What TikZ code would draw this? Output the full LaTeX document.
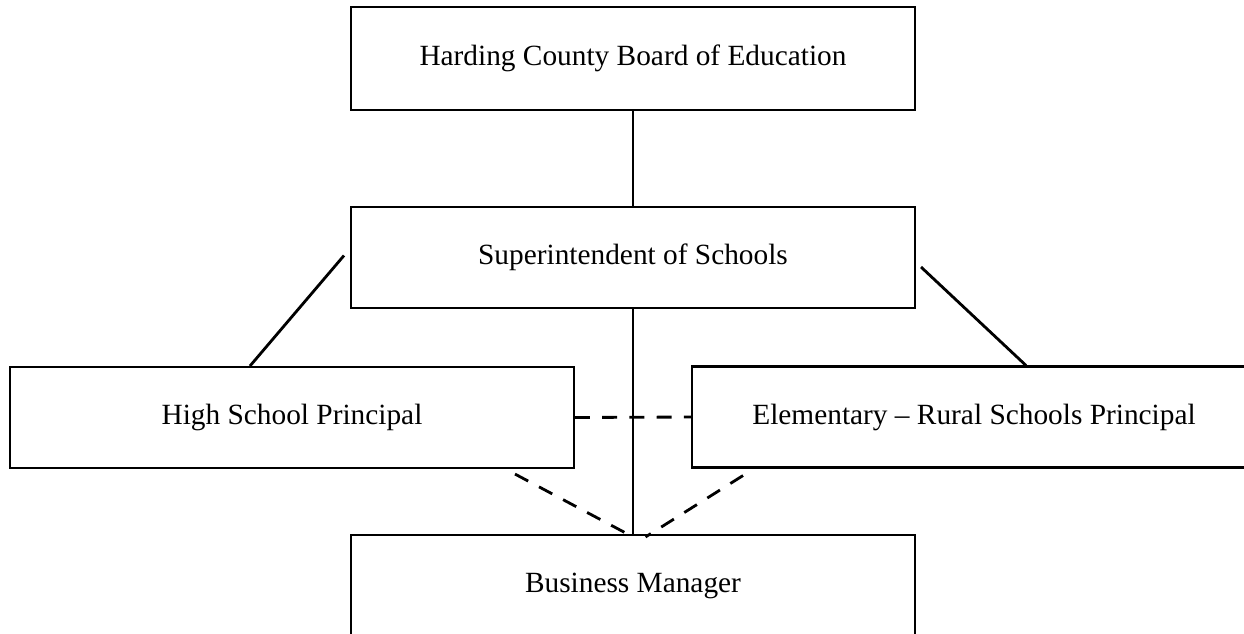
\documentclass[tikz,border=0pt]{standalone}
\usepackage{fontspec}
\setmainfont{Liberation Serif}
\usetikzlibrary{positioning,calc}

\begin{document}
\begin{tikzpicture}[x=0.02cm, y=-0.02cm,
    box/.style={draw, line width=1.2pt, rectangle, minimum width=11.28cm, minimum height=2.02cm, inner sep=0pt, font=\fontsize{16.7}{20}\selectfont},
    link/.style={draw, line width=1.6pt},
    dashlink/.style={draw, line width=1.6pt, dash pattern=on 8.5pt off 7pt}]

    \useasboundingbox (0,0) rectangle (1244,633);
    \clip (0,0) rectangle (1244,633);

    % the boxes
    \node[box, minimum height=2.06cm] (board) at (633,58.5) {Harding County Board of Education};
    \node[box] (super) at (633,257.5) {Superintendent of Schools};
    \node[box] (high) at (292,417.5) {High School Principal};
    \node[box] (rural) at (974,417) {Elementary – Rural Schools Principal};
    \node[box] (business) at (633,585.5) {Business Manager};

    % free ends of the connectors
    \coordinate (superL) at ($(super.west)+(-6,-2)$);
    \coordinate (highT) at ($(high.north)+(-42,0)$);
    \coordinate (superR) at ($(super.east)+(5,9.5)$);
    \coordinate (ruralT) at ($(rural.north)+(52,0)$);
    \coordinate (highB) at ($(high.south)+(223,5)$);
    \coordinate (ruralB) at ($(rural.south)+(-231,7)$);
    \coordinate (busL) at ($(business.north)+(-5.5,0)$);
    \coordinate (busR) at ($(business.north)+(12.5,3)$);

    % solid lines
    \path[link] (board.south) -- (super.north);
    \path[link] (super.south) -- (business.north);
    \path[link] (superL) -- (highT);
    \path[link] (superR) -- (ruralT);

    % dashed lines
    \path[dashlink] (high.east) -- (rural.west);
    \path[dashlink] (highB) -- (busL);
    \path[dashlink] (ruralB) -- (busR);

\end{tikzpicture}
\end{document}
